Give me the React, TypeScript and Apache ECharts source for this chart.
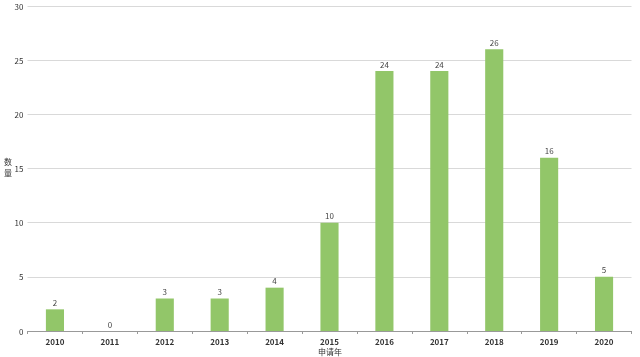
import React, { useEffect, useRef } from "react";
import * as echarts from "echarts";

const years = ["2010", "2011", "2012", "2013", "2014", "2015", "2016", "2017", "2018", "2019", "2020"];
const counts = [2, 0, 3, 3, 4, 10, 24, 24, 26, 16, 5];
const xName = "申请年";
const yName = "数\n量";

export default function App() {
  const ref = useRef<HTMLDivElement>(null);
  useEffect(() => {
    const chart = echarts.init(ref.current!, null, { renderer: "svg" });
    const font = "'Noto Sans CJK SC', 'DejaVu Sans', sans-serif";
    chart.setOption({
      animation: false,
      textStyle: { fontFamily: font },
      grid: { left: 27.5, right: 8.5, top: 6, bottom: 26, containLabel: false, outerBoundsMode: "none" },
      graphic: [
        {
          type: "text",
          x: 330,
          y: 351,
          style: { text: xName, fill: "#333", align: "center", verticalAlign: "middle", font: `8px ${font}` },
        },
        {
          type: "text",
          x: 8,
          y: 167,
          style: { text: yName, lineHeight: 11, fill: "#333", align: "center", verticalAlign: "middle", font: `8px ${font}` },
        },
      ],
      xAxis: {
        type: "category",
        data: years,
        axisLine: { lineStyle: { color: "#999", width: 1 } },
        axisTick: { show: true, alignWithLabel: false, length: 3, lineStyle: { color: "#999" } },
        axisLabel: { fontSize: 8, fontWeight: "bold", color: "#333", margin: 6 },
      },
      yAxis: {
        type: "value",
        min: 0,
        max: 30,
        interval: 5,
        axisLine: { show: false },
        axisTick: { show: false },
        axisLabel: { fontSize: 8, color: "#333", margin: 4 },
        splitLine: { lineStyle: { color: "#d9d9d9", width: 1 } },
      },
      series: [
        {
          type: "bar",
          data: counts,
          barWidth: "33%",
          itemStyle: { color: "#92C669" },
          label: { show: true, position: "top", fontSize: 8, color: "#444", distance: 3 },
        },
      ],
    });
    return () => chart.dispose();
  }, []);
  return <div ref={ref} style={{ position: "fixed", left: 0, top: 0, width: 640, height: 357 }} />;
}
